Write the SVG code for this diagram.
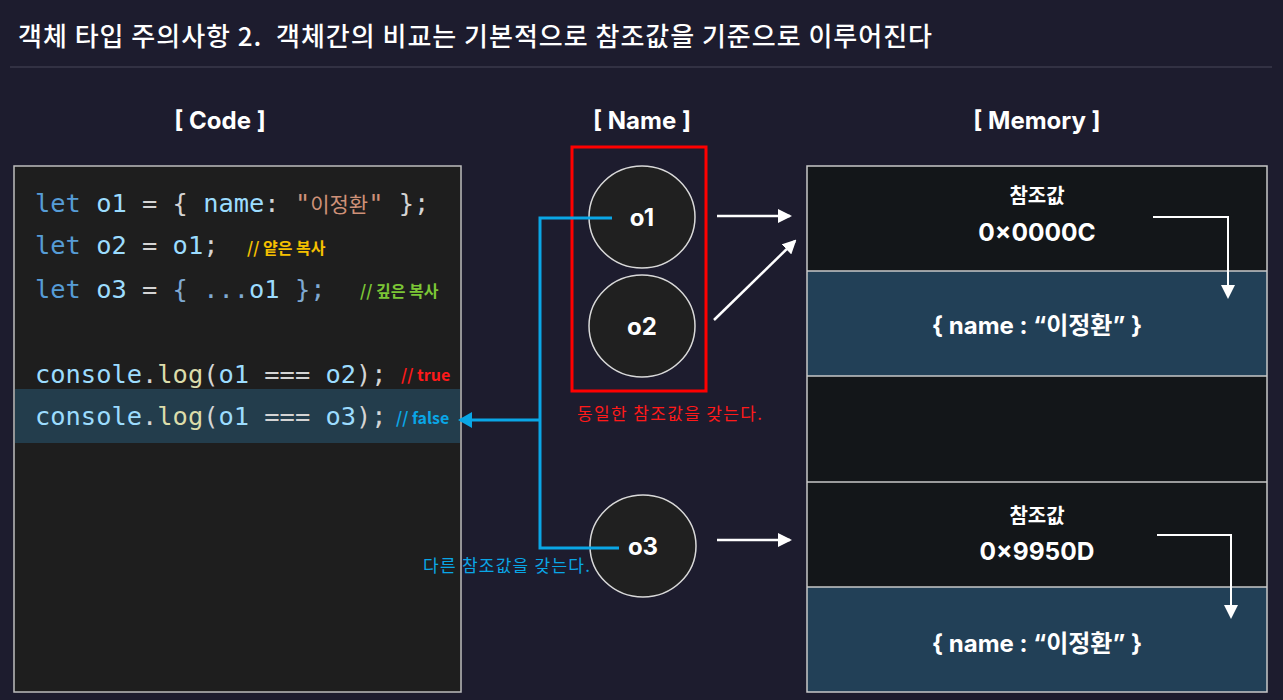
<svg xmlns="http://www.w3.org/2000/svg" width="1283" height="700" viewBox="0 0 1283 700">
<defs>
<marker id="wa2" markerWidth="14" markerHeight="14" refX="12" refY="7" orient="auto" markerUnits="userSpaceOnUse" viewBox="0 0 14 14"><path d="M0,0 L14,7 L0,14 z" fill="#ffffff"/></marker>
<marker id="ba" markerWidth="14" markerHeight="16" refX="12" refY="8" orient="auto" markerUnits="userSpaceOnUse" viewBox="0 0 14 16"><path d="M0,0 L14,8 L0,16 z" fill="#0aa6e6"/></marker>
</defs>
<style>
.kr{font-family:"Noto Sans CJK KR","Noto Sans",sans-serif}
.hd{font-family:Inter,"Noto Sans CJK KR",sans-serif;font-weight:700;font-size:24px;fill:#fff;text-anchor:middle}
.code{font-family:"DejaVu Sans Mono","Noto Sans CJK KR",monospace;font-size:25.4px}
.k{fill:#569cd6}.v{fill:#9cdcfe}.p{fill:#d4d4d4}.s{fill:#ce9178}.f{fill:#dcdcaa}.b{fill:#7fa9d2}
.cm{font-family:"Noto Sans CJK KR","Noto Sans",sans-serif;font-weight:700;font-size:16px}
.circ{fill:#202020;stroke:#d9d9d9;stroke-width:1.5}
.cl{font-family:Inter,"Noto Sans",sans-serif;font-weight:700;font-size:24px;fill:#fff;text-anchor:middle}
.mt{font-family:Inter,"Noto Sans CJK KR",sans-serif;font-weight:700;fill:#fff;text-anchor:middle}
.wl{stroke:#fff;stroke-width:2.5;fill:none}
.el{stroke:#fff;stroke-width:2;fill:none}
.bl{stroke:#0aa6e6;stroke-width:3;fill:none}
.row{stroke:#c8c8c8;stroke-width:1.5}
</style>
<rect x="0" y="0" width="1283" height="700" fill="#1d1c2e"/>
<g id="title">
<text x="18" y="46" class="kr" font-size="26" font-weight="500" fill="#ffffff" xml:space="preserve" textLength="914" lengthAdjust="spacing">객체 타입 주의사항 2.  객체간의 비교는 기본적으로 참조값을 기준으로 이루어진다</text>
<line x1="10" y1="67" x2="1272" y2="67" stroke="#3a394b" stroke-width="1.5"/>
</g>
<g id="headers">
<text x="220" y="129" class="hd">[ Code ]</text>
<text x="642" y="129" class="hd">[ Name ]</text>
<text x="1037" y="129" class="hd">[ Memory ]</text>
</g>
<g id="code">
<rect x="14" y="166" width="447" height="526" fill="#1e1e1e" stroke="#bdbdbd" stroke-width="1.5"/>
<rect x="15" y="389" width="445" height="54" fill="#233d4c"/>
<text x="35" y="212" class="code"><tspan class="k">let</tspan><tspan class="p"> </tspan><tspan class="v">o1</tspan><tspan class="p"> = { </tspan><tspan class="v">name</tspan><tspan class="p">: </tspan><tspan class="s">"<tspan font-size="21">이정환</tspan>"</tspan><tspan class="p"> };</tspan></text>
<text x="35" y="254" class="code"><tspan class="k">let</tspan><tspan class="p"> </tspan><tspan class="v">o2</tspan><tspan class="p"> = </tspan><tspan class="v">o1</tspan><tspan class="p">;</tspan></text>
<text x="247" y="254" class="cm" fill="#f5c000">// 얕은 복사</text>
<text x="35" y="298" class="code"><tspan class="k">let</tspan><tspan class="p"> </tspan><tspan class="v">o3</tspan><tspan class="p"> = </tspan><tspan class="b">{ ...</tspan><tspan class="v">o1</tspan><tspan class="b"> };</tspan></text>
<text x="360" y="297" class="cm" fill="#7cc636">// 깊은 복사</text>
<text x="35" y="383" class="code"><tspan class="v">console</tspan><tspan class="p">.</tspan><tspan class="f">log</tspan><tspan class="p">(</tspan><tspan class="v">o1</tspan><tspan class="p"> === </tspan><tspan class="v">o2</tspan><tspan class="p">);</tspan></text>
<text x="401" y="381" class="cm" fill="#ff1a1a">// true</text>
<text x="35" y="425" class="code"><tspan class="v">console</tspan><tspan class="p">.</tspan><tspan class="f">log</tspan><tspan class="p">(</tspan><tspan class="v">o1</tspan><tspan class="p"> === </tspan><tspan class="v">o3</tspan><tspan class="p">);</tspan></text>
<text x="396" y="424" class="cm" fill="#0aa6e6">// false</text>
</g>
<g id="name-box">
<rect x="572" y="147" width="134" height="244" fill="none" stroke="#ff0000" stroke-width="3"/>
<text x="577" y="420" class="kr" font-size="17" fill="#ff1a1a" textLength="185" lengthAdjust="spacing">동일한 참조값을 갖는다.</text>
</g>
<g id="node-o1">
<ellipse cx="642" cy="217" rx="53" ry="51" class="circ"/>
<text x="642" y="226" class="cl">o1</text>
</g>
<g id="node-o2">
<ellipse cx="642" cy="326" rx="53" ry="51" class="circ"/>
<text x="642" y="335" class="cl">o2</text>
</g>
<g id="node-o3">
<ellipse cx="643" cy="546" rx="53" ry="51" class="circ"/>
<text x="643" y="555" class="cl">o3</text>
</g>
<g id="memory">
<rect x="807" y="166" width="460" height="105" fill="#131619"/>
<rect x="807" y="271" width="460" height="105" fill="#224057"/>
<rect x="807" y="376" width="460" height="106" fill="#131619"/>
<rect x="807" y="482" width="460" height="105" fill="#131619"/>
<rect x="807" y="587" width="460" height="105" fill="#224057"/>
<rect x="807" y="166" width="460" height="526" fill="none" class="row"/>
<line x1="807" y1="271" x2="1267" y2="271" class="row"/>
<line x1="807" y1="376" x2="1267" y2="376" class="row"/>
<line x1="807" y1="482" x2="1267" y2="482" class="row"/>
<line x1="807" y1="587" x2="1267" y2="587" class="row"/>
<text x="1037" y="203" class="mt" font-size="20">참조값</text>
<text x="1037" y="241" class="mt" font-size="24.5">0×0000C</text>
<text x="1037" y="334" class="mt" font-size="24">{ name : “이정환” }</text>
<text x="1037" y="523" class="mt" font-size="20">참조값</text>
<text x="1037" y="560" class="mt" font-size="24.5">0×9950D</text>
<text x="1037" y="652" class="mt" font-size="24" fill="#d2d2d2">{ name : “이정환” }</text>
</g>
<g id="connectors">
<line x1="717" y1="216" x2="790" y2="216" class="wl" marker-end="url(#wa2)"/>
<line x1="714" y1="320" x2="795" y2="241" class="wl" marker-end="url(#wa2)"/>
<line x1="717" y1="540" x2="790" y2="540" class="wl" marker-end="url(#wa2)"/>
<polyline points="1153,217 1228,217 1228,297" class="el" marker-end="url(#wa2)"/>
<polyline points="1157,535 1231,535 1231,617" class="el" marker-end="url(#wa2)"/>
<polyline points="612,218 540,218 540,548 619,548" class="bl"/>
<line x1="540" y1="420" x2="460" y2="420" class="bl" marker-end="url(#ba)"/>
<text x="423" y="572" class="kr" font-size="17" fill="#0aa6e6" textLength="167" lengthAdjust="spacing">다른 참조값을 갖는다.</text>
</g>
</svg>
